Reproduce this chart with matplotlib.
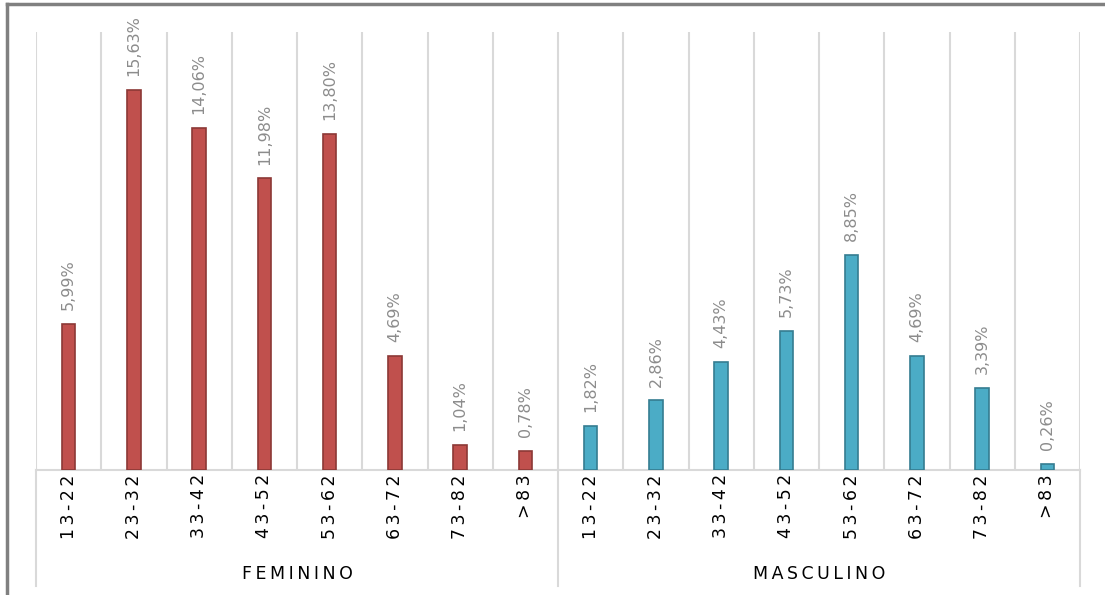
# grouped age-range bar chart, feminino / masculino

import matplotlib.pyplot as plt
import matplotlib.transforms as mtransforms
import numpy as np

# ---------------------------------------------------------------
# data
faixas = ["13 - 22", "23 - 32", "33 - 42", "43 - 52", "53 - 62", "63 - 72", "73 - 82", ">83"]
grupos = ["FEMININO", "MASCULINO"]
feminino = [5.99, 15.63, 14.06, 11.98, 13.80, 4.69, 1.04, 0.78]
masculino = [1.82, 2.86, 4.43, 5.73, 8.85, 4.69, 3.39, 0.26]

cor_fem, borda_fem = "#C0504D", "#8C3836"
cor_mas, borda_mas = "#4BACC6", "#357D91"
cor_grade = "#D9D9D9"

W, H = 1105, 595

def espacado(s):
    # letter-spaced text, like the original chart
    return "\u2009".join(s.replace(" ", ""))

# ---------------------------------------------------------------
fig = plt.figure(figsize=(W / 100, H / 100), dpi=100)
ax = fig.add_axes([36 / W, (H - 470) / H, (1080 - 36) / W, (470 - 32) / H])

n = len(faixas)
x_fem = np.arange(n)
x_mas = np.arange(n) + n

ax.bar(x_fem, feminino, width=0.21, color=cor_fem, edgecolor=borda_fem, linewidth=1.2, zorder=3)
ax.bar(x_mas, masculino, width=0.21, color=cor_mas, edgecolor=borda_mas, linewidth=1.2, zorder=3)

# value labels, rotated
for xs, vals in ((x_fem, feminino), (x_mas, masculino)):
    for x, v in zip(xs, vals):
        ax.annotate(f"{v:.2f}%".replace(".", ","), (x, v), xytext=(0, 10),
                    textcoords="offset points", rotation=90, ha="center", va="bottom",
                    fontsize=11.5, color="#8C8C8C")

ax.set_xlim(-0.5, 2 * n - 0.5)
ax.set_ylim(0, 18)

# vertical grid lines between categories
for b in np.arange(0, 2 * n + 1) - 0.5:
    ax.axvline(b, color=cor_grade, linewidth=1.5, zorder=1)

for s in ax.spines.values():
    s.set_visible(False)
ax.set_yticks([])
ax.set_xticks(list(x_fem) + list(x_mas))
ax.set_xticklabels([espacado(f) for f in faixas + faixas], rotation=90, fontsize=12.5)
ax.tick_params(axis="x", length=0, pad=3)

# category axis: baseline and group separators
trans = mtransforms.blended_transform_factory(ax.transData, ax.transAxes)
ax.plot([-0.5, 2 * n - 0.5], [0, 0], transform=trans, color=cor_grade, linewidth=1.5, clip_on=False, zorder=2)
for b in (-0.5, n - 0.5, 2 * n - 0.5):
    ax.plot([b, b], [0, -116 / 438], transform=trans, color=cor_grade, linewidth=1.5, clip_on=False)

for nome, centro in zip(grupos, (n / 2 - 0.5, n + n / 2 - 0.5)):
    ax.text(centro, -104 / 438, espacado(nome), transform=trans, ha="center", va="center",
            fontsize=12.5)

# outer frame (top and left only visible)
fig.add_artist(plt.Line2D([7 / W, 1], [1 - 4 / H, 1 - 4 / H], transform=fig.transFigure, color="#808080", linewidth=2.5))
fig.add_artist(plt.Line2D([7 / W, 7 / W], [0, 1 - 4 / H], transform=fig.transFigure, color="#808080", linewidth=2.5))

fig.savefig("out.png", dpi=100)
